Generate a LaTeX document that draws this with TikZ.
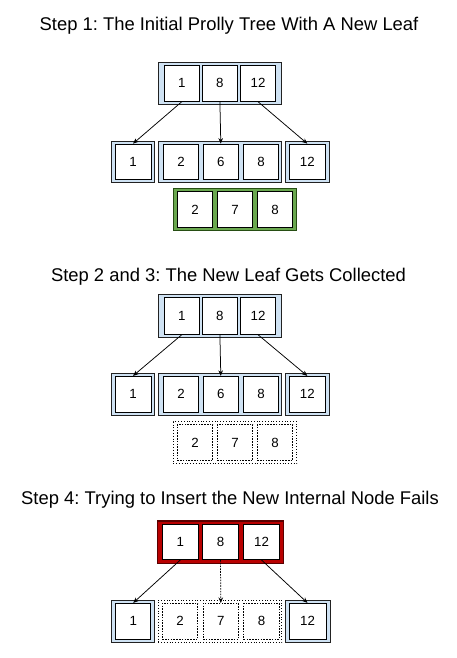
\documentclass[tikz,border=0pt]{standalone}
\usepackage{fontspec}
\setmainfont{Liberation Sans}
\usetikzlibrary{arrows.meta}
\frenchspacing
\definecolor{lblue}{HTML}{CFE2F3}
\definecolor{lbluedraw}{HTML}{222222}
\definecolor{gfill}{HTML}{6AA84F}
\definecolor{gdraw}{HTML}{274E13}
\definecolor{rfill}{HTML}{B80000}
\definecolor{rdraw}{HTML}{5A0000}
\begin{document}
\begin{tikzpicture}[x=1pt,y=-1pt,
  title/.style={font=\fontsize{18.4}{22}\selectfont\frenchspacing, inner sep=0, anchor=base},
  cellbox/.style={draw=black, fill=white, line width=0.8pt, minimum width=35.5pt, minimum height=36pt, inner sep=0, font=\fontsize{13.3}{15}\selectfont},
  dashcell/.style={cellbox, fill=none, dash pattern=on 1.6pt off 1.2pt, line width=0.6pt},
  bluebox/.style={draw=lbluedraw, fill=lblue, line width=0.8pt, inner sep=0},
  greenbox/.style={draw=gdraw, fill=gfill, line width=1.2pt, inner sep=0},
  redbox/.style={draw=rdraw, fill=rfill, line width=1.2pt, inner sep=0},
  dotbox/.style={draw=black, dotted, line width=0.8pt, inner sep=0},
  arr/.style={-{Stealth[length=5.5pt,width=4.5pt]}, line width=0.75pt},
  darr/.style={arr, dash pattern=on 1.6pt off 1.2pt}
]
\useasboundingbox (0,0) rectangle (457,658);
\fill[white] (0,0) rectangle (457,658);

% ---------- Step 1 ----------
\node[title] (title1) at (229,31) {Step 1: The Initial Prolly Tree With A New Leaf};

\node[bluebox, minimum width=123.4pt, minimum height=42pt] (t1) at (220,83.3) {};
\node[cellbox] (t1a) at (181.8,83.3) {1};
\node[cellbox] (t1b) at (219.9,83.3) {8};
\node[cellbox] (t1c) at (258,83.3) {12};

\node[bluebox, minimum width=43.3pt, minimum height=41.3pt] (l1) at (132.7,161.7) {};
\node[cellbox, minimum width=36pt, minimum height=35.3pt] (l1a) at (133,161.7) {1};
\node[bluebox, minimum width=123.4pt, minimum height=41.3pt] (m1) at (220,161.7) {};
\node[cellbox, minimum height=35.3pt] (m1a) at (181,161.7) {2};
\node[cellbox, minimum height=35.3pt] (m1b) at (220.8,161.7) {6};
\node[cellbox, minimum height=35.3pt] (m1c) at (261,161.7) {8};
\node[bluebox, minimum width=44.3pt, minimum height=41.3pt] (r1) at (307.2,161.7) {};
\node[cellbox, minimum width=36pt, minimum height=35.3pt] (r1a) at (307.3,161.7) {12};

\node[greenbox, minimum width=123.4pt, minimum height=42.4pt] (g1) at (235,209.5) {};
\node[cellbox] (g1a) at (195,209.7) {2};
\node[cellbox] (g1b) at (235,209.7) {7};
\node[cellbox] (g1c) at (275,209.7) {8};

\draw[arr] (t1a.south) -- (l1a.north);
\draw[arr] (t1b.south) -- (m1b.north);
\draw[arr] (t1c.south) -- (r1a.north);

% ---------- Step 2 and 3 ----------
\node[title] (title2) at (228.5,281) {Step 2 and 3: The New Leaf Gets Collected};

\node[bluebox, minimum width=123.4pt, minimum height=43pt] (t2) at (220,315.8) {};
\node[cellbox, minimum height=37pt] (t2a) at (181.8,315.8) {1};
\node[cellbox, minimum height=37pt] (t2b) at (219.9,315.8) {8};
\node[cellbox, minimum height=37pt] (t2c) at (258,315.8) {12};

\node[bluebox, minimum width=43.3pt, minimum height=42pt] (l2) at (132.7,394.3) {};
\node[cellbox, minimum width=36pt] (l2a) at (133,394.3) {1};
\node[bluebox, minimum width=123.4pt, minimum height=42pt] (m2) at (220,394.3) {};
\node[cellbox] (m2a) at (181,394.3) {2};
\node[cellbox] (m2b) at (220.8,394.3) {6};
\node[cellbox] (m2c) at (261,394.3) {8};
\node[bluebox, minimum width=44.3pt, minimum height=42pt] (r2) at (307.2,394.3) {};
\node[cellbox, minimum width=36pt] (r2a) at (307.3,394.3) {12};

\node[dotbox, minimum width=123.4pt, minimum height=41.6pt] (g2) at (235,442.5) {};
\node[dashcell] (g2a) at (195,442.5) {2};
\node[dashcell] (g2b) at (235,442.5) {7};
\node[dashcell] (g2c) at (275,442.5) {8};

\draw[arr] (t2a.south) -- (l2a.north);
\draw[arr] (t2b.south) -- (m2b.north);
\draw[arr] (t2c.south) -- (r2a.north);

% ---------- Step 4 ----------
\node[title] (title3) at (230,504) {Step 4: Trying to Insert the New Internal Node Fails};

\node[redbox, minimum width=125.6pt, minimum height=42.3pt] (t3) at (220.5,542.2) {};
\node[cellbox, minimum height=35.6pt] (t3a) at (180.3,541.8) {1};
\node[cellbox, minimum height=35.6pt] (t3b) at (220.5,541.8) {8};
\node[cellbox, minimum height=35.6pt] (t3c) at (261.5,541.8) {12};

\node[bluebox, minimum width=42.6pt, minimum height=42.3pt] (l3) at (133,621.2) {};
\node[cellbox, minimum width=35pt] (l3a) at (133.2,621.3) {1};
\node[dotbox, minimum width=123.4pt, minimum height=42.3pt] (m3) at (220,621.2) {};
\node[dashcell] (m3a) at (180,621.3) {2};
\node[dashcell] (m3b) at (220.8,621.3) {7};
\node[dashcell] (m3c) at (261.5,621.3) {8};
\node[bluebox, minimum width=45pt, minimum height=42.3pt] (r3) at (307.5,621.2) {};
\node[cellbox, minimum width=37pt] (r3a) at (307.5,621.3) {12};

\draw[arr] (t3a.south) -- (l3a.north);
\draw[darr] (t3b.south) -- (m3b.north);
\draw[arr] (t3c.south) -- (r3a.north);
\end{tikzpicture}
\end{document}
